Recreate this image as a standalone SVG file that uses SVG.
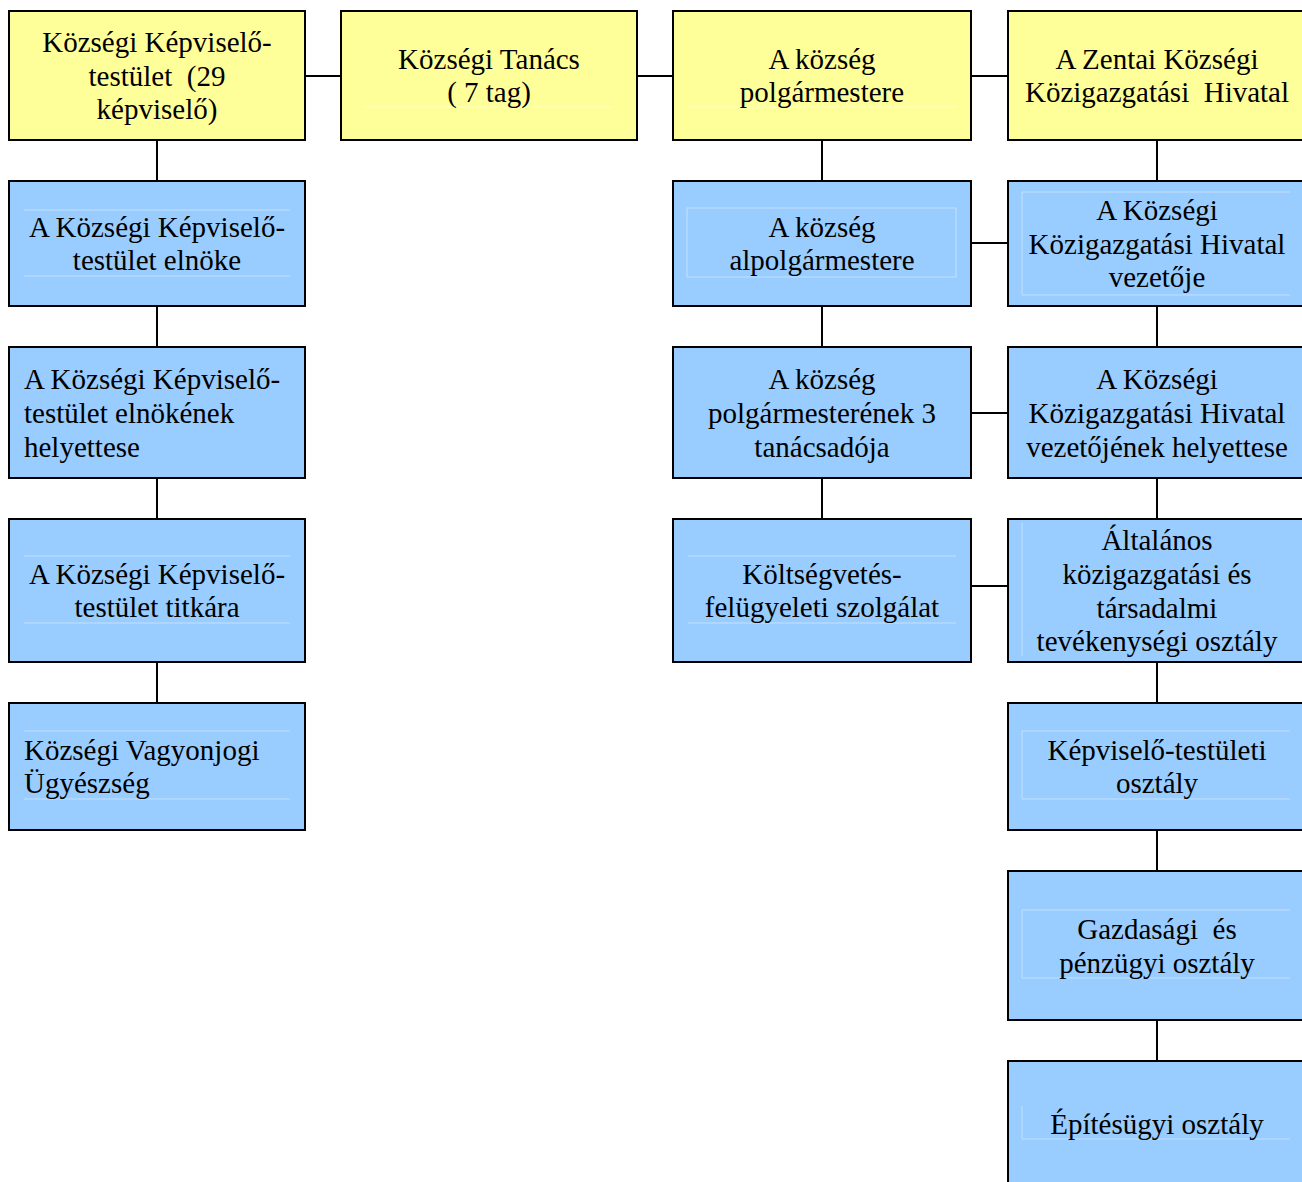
<svg xmlns="http://www.w3.org/2000/svg" width="1302" height="1182" viewBox="0 0 1302 1182">
<style>
.y{fill:#ffff99;stroke:#000;stroke-width:2}
.b{fill:#99ccff;stroke:#000;stroke-width:2}
.f{stroke:#c4e0ff;stroke-width:1;fill:none}
.fy{stroke:#ffffc8;stroke-width:1;fill:none}
text{font-family:"Liberation Serif","Times New Roman",serif;font-size:29px;fill:#000;white-space:pre}
.c{text-anchor:middle}
#conn line{stroke:#000;stroke-width:2}
</style>
<rect width="1302" height="1182" fill="#fff"/>
<g id="conn">
<line x1="305" y1="76" x2="341" y2="76"/>
<line x1="637" y1="76" x2="673" y2="76"/>
<line x1="971" y1="76" x2="1008" y2="76"/>
<line x1="157" y1="140" x2="157" y2="181"/>
<line x1="157" y1="306" x2="157" y2="347"/>
<line x1="157" y1="478" x2="157" y2="519"/>
<line x1="157" y1="662" x2="157" y2="703"/>
<line x1="822" y1="140" x2="822" y2="181"/>
<line x1="822" y1="306" x2="822" y2="347"/>
<line x1="822" y1="478" x2="822" y2="519"/>
<line x1="1157" y1="140" x2="1157" y2="181"/>
<line x1="1157" y1="306" x2="1157" y2="347"/>
<line x1="1157" y1="478" x2="1157" y2="519"/>
<line x1="1157" y1="662" x2="1157" y2="703"/>
<line x1="1157" y1="830" x2="1157" y2="871"/>
<line x1="1157" y1="1020" x2="1157" y2="1061"/>
<line x1="971" y1="243" x2="1008" y2="243"/>
<line x1="971" y1="413" x2="1008" y2="413"/>
<line x1="971" y1="586" x2="1008" y2="586"/>
</g>
<g id="n1">
<rect class="y" x="9" y="11" width="296" height="129"/>
<text class="c" x="157" y="52" xml:space="preserve">Községi Képviselő-</text>
<text class="c" x="157" y="86" xml:space="preserve">testület  (29</text>
<text class="c" x="157" y="119" xml:space="preserve">képviselő)</text>
</g>
<g id="n2">
<rect class="y" x="341" y="11" width="296" height="129"/>
<line class="fy" x1="365" y1="107" x2="612" y2="107"/>
<text class="c" x="489" y="69" xml:space="preserve">Községi Tanács</text>
<text class="c" x="489" y="102" xml:space="preserve">( 7 tag)</text>
</g>
<g id="n3">
<rect class="y" x="673" y="11" width="298" height="129"/>
<line class="fy" x1="688" y1="107" x2="955" y2="107"/>
<text class="c" x="822" y="69">A község</text>
<text class="c" x="822" y="102">polgármestere</text>
</g>
<g id="n4">
<rect class="y" x="1008" y="11" width="300" height="129"/>
<text class="c" x="1157" y="69">A Zentai Községi</text>
<text class="c" x="1157" y="102" xml:space="preserve">Közigazgatási  Hivatal</text>
</g>
<g id="n5">
<rect class="b" x="9" y="181" width="296" height="125"/>
<line class="f" x1="24" y1="210" x2="290" y2="210"/>
<line class="f" x1="24" y1="276" x2="290" y2="276"/>
<text class="c" x="157" y="237">A Községi Képviselő-</text>
<text class="c" x="157" y="270">testület elnöke</text>
</g>
<g id="n6">
<rect class="b" x="673" y="181" width="298" height="125"/>
<rect class="f" x="687" y="208" width="269" height="69"/>
<text class="c" x="822" y="237">A község</text>
<text class="c" x="822" y="270">alpolgármestere</text>
</g>
<g id="n7">
<rect class="b" x="1008" y="181" width="300" height="125"/>
<line class="f" x1="1022" y1="192" x2="1290" y2="192"/>
<line class="f" x1="1022" y1="295" x2="1290" y2="295"/>
<line class="f" x1="1022" y1="192" x2="1022" y2="295"/>
<text class="c" x="1157" y="220">A Községi</text>
<text class="c" x="1157" y="254">Közigazgatási Hivatal</text>
<text class="c" x="1157" y="287">vezetője</text>
</g>
<g id="n8">
<rect class="b" x="9" y="347" width="296" height="131"/>
<text x="24" y="389">A Községi Képviselő-</text>
<text x="24" y="423">testület elnökének</text>
<text x="24" y="457">helyettese</text>
</g>
<g id="n9">
<rect class="b" x="673" y="347" width="298" height="131"/>
<text class="c" x="822" y="389">A község</text>
<text class="c" x="822" y="423">polgármesterének 3</text>
<text class="c" x="822" y="457">tanácsadója</text>
</g>
<g id="n10">
<rect class="b" x="1008" y="347" width="300" height="131"/>
<text class="c" x="1157" y="389">A Községi</text>
<text class="c" x="1157" y="423">Közigazgatási Hivatal</text>
<text class="c" x="1157" y="457">vezetőjének helyettese</text>
</g>
<g id="n11">
<rect class="b" x="9" y="519" width="296" height="143"/>
<line class="f" x1="24" y1="556" x2="290" y2="556"/>
<line class="f" x1="24" y1="623" x2="290" y2="623"/>
<text class="c" x="157" y="584">A Községi Képviselő-</text>
<text class="c" x="157" y="617">testület titkára</text>
</g>
<g id="n12">
<rect class="b" x="673" y="519" width="298" height="143"/>
<line class="f" x1="688" y1="556" x2="956" y2="556"/>
<line class="f" x1="688" y1="623" x2="956" y2="623"/>
<text class="c" x="822" y="584">Költségvetés-</text>
<text class="c" x="822" y="617">felügyeleti szolgálat</text>
</g>
<g id="n13">
<rect class="b" x="1008" y="519" width="300" height="143"/>
<line class="f" x1="1022" y1="523" x2="1022" y2="656"/>
<text class="c" x="1157" y="550">Általános</text>
<text class="c" x="1157" y="584">közigazgatási és</text>
<text class="c" x="1157" y="618">társadalmi</text>
<text class="c" x="1157" y="651">tevékenységi osztály</text>
</g>
<g id="n14">
<rect class="b" x="9" y="703" width="296" height="127"/>
<line class="f" x1="24" y1="731" x2="290" y2="731"/>
<line class="f" x1="24" y1="799" x2="290" y2="799"/>
<text x="24" y="760">Községi Vagyonjogi</text>
<text x="24" y="793">Ügyészség</text>
</g>
<g id="n15">
<rect class="b" x="1008" y="703" width="300" height="127"/>
<line class="f" x1="1022" y1="731" x2="1290" y2="731"/>
<line class="f" x1="1022" y1="799" x2="1290" y2="799"/>
<line class="f" x1="1022" y1="731" x2="1022" y2="799"/>
<text class="c" x="1157" y="760">Képviselő-testületi</text>
<text class="c" x="1157" y="793">osztály</text>
</g>
<g id="n16">
<rect class="b" x="1008" y="871" width="300" height="149"/>
<line class="f" x1="1022" y1="910" x2="1290" y2="910"/>
<line class="f" x1="1022" y1="978" x2="1290" y2="978"/>
<line class="f" x1="1022" y1="910" x2="1022" y2="978"/>
<text class="c" x="1157" y="939" xml:space="preserve">Gazdasági  és</text>
<text class="c" x="1157" y="973">pénzügyi osztály</text>
</g>
<g id="n17">
<rect class="b" x="1008" y="1061" width="300" height="140"/>
<line class="f" x1="1022" y1="1106" x2="1022" y2="1139"/>
<line class="f" x1="1022" y1="1139" x2="1290" y2="1139"/>
<text class="c" x="1157" y="1134">Építésügyi osztály</text>
</g>
</svg>
